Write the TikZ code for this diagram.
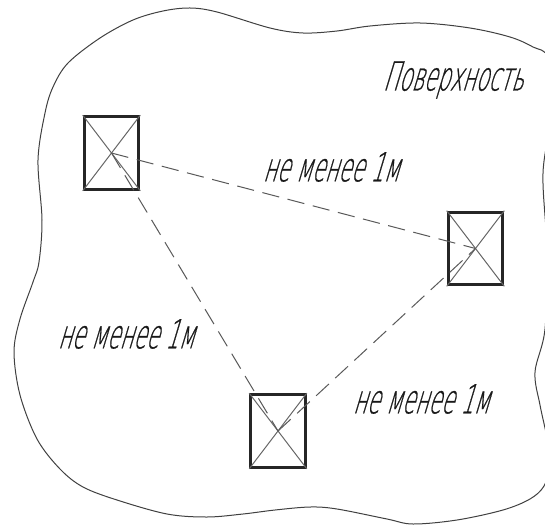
\documentclass[tikz,border=0pt]{standalone}
\usepackage{fontspec}
\newfontfamily\gost[FakeSlant=0.3,FakeStretch=0.52,FakeBold=0.5]{DejaVu Sans ExtraLight}
\tikzset{
  wellbox/.style={draw=black!85,line width=2.2pt,rectangle,inner sep=0pt,minimum width=41pt,minimum height=54.5pt},
  cross/.style={draw=black!60,line width=0.75pt},
  link/.style={draw=black!65,line width=0.75pt,dash pattern=on 13pt off 6.5pt},
  outline/.style={draw=black!75,line width=0.75pt},
  lbl/.style={font=\gost\fontsize{30pt}{30pt}\selectfont,text=black!90,inner sep=0pt}
}
\begin{document}
\begin{tikzpicture}[x=0.75pt,y=-0.75pt]
\useasboundingbox (0,0) rectangle (545,524);
\begin{scope}
\clip (0,0) rectangle (545,524);
\draw[outline] plot[smooth cycle,tension=0.55] coordinates {
(39,262)(42,220)(38,160)(45,113)(53,87)(68,63)(100,38)(133,20)(163,11)(190,8)(217,12)(270,28)(303,33)(337,31)(370,26)(420,23)(470,28)(510,37)(533,47)(548,58)(552,110)(543,173)(547,250)(545,329)(535,372)(540,405)(547,438)(550,465)(544,486)(530,499)(503,510)(457,520)(413,524)(387,519)(337,509)(310,507)(275,510)(243,514)(207,517)(167,514)(117,500)(83,487)(60,469)(37,439)(20,395)(14,352)(20,319)(33,282)};
\end{scope}
\node[wellbox] (b1) at (111.5,153) {};
\node[wellbox] (b2) at (475.5,248.5) {};
\node[wellbox] (b3) at (278,431) {};
\foreach \b in {b1,b2,b3}{
  \draw[cross] (\b.north west) -- (\b.south east);
  \draw[cross] (\b.north east) -- (\b.south west);
}
\draw[link] (b1.center) -- (b2.center);
\draw[link] (b1.center) -- (b3.center);
\draw[link] (b3.center) -- (b2.center);
\node[lbl] (t0) at (453,80) {Поверхность};
\node[lbl] (t1) at (331,167) {не менее 1м};
\node[lbl] (t2) at (126,334) {не менее 1м};
\node[lbl] (t3) at (421,399) {не менее 1м};
\end{tikzpicture}
\end{document}
